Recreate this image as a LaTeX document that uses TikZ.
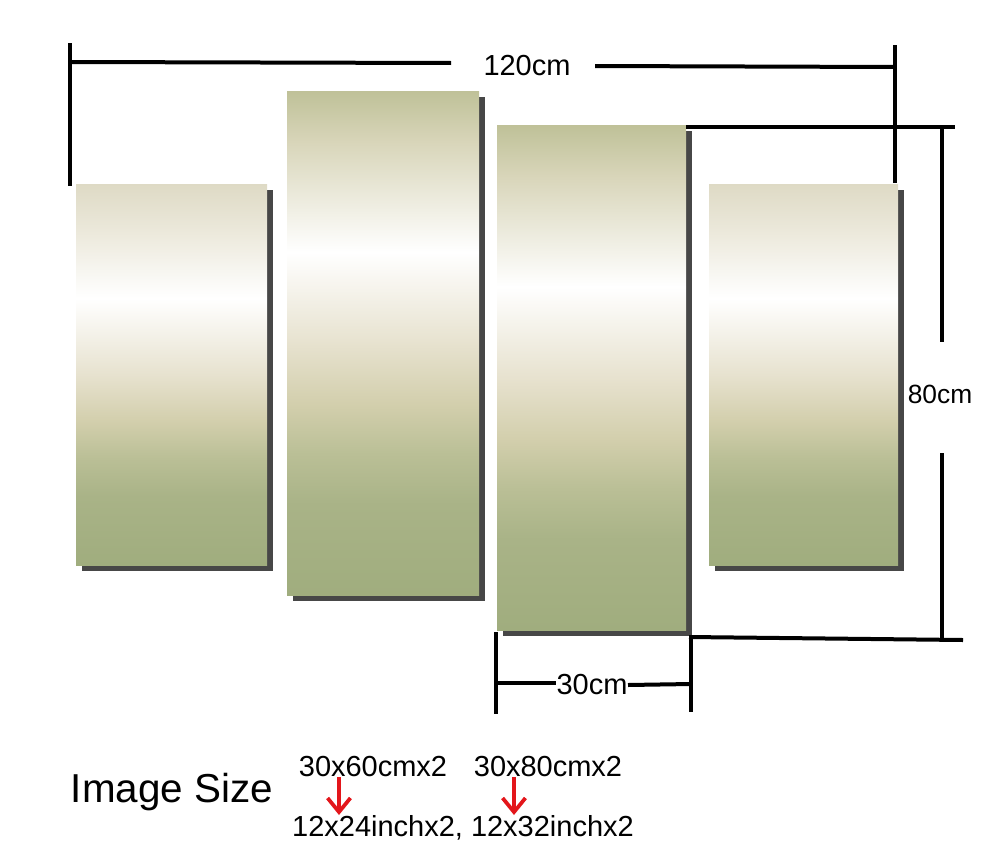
\documentclass[tikz,border=0pt]{standalone}
\usepackage{fontspec}
\setmainfont{Liberation Sans}
\usetikzlibrary{arrows.meta}

\definecolor{shadowgray}{HTML}{474747}
\definecolor{arrowred}{HTML}{E3161B}
\definecolor{greenbot}{HTML}{A0AD7E}
\definecolor{greenlow}{HTML}{A9B387}
\definecolor{greenmid}{HTML}{BABF96}
\definecolor{beigelow}{HTML}{D3CFAD}
\definecolor{beigemid}{HTML}{E7E2CF}
\definecolor{creamtop}{HTML}{D8D5B9}
\definecolor{greentop}{HTML}{BFC198}
\definecolor{paletop}{HTML}{DEDAC5}
\definecolor{palenext}{HTML}{EBE8DA}

% 25bp = bottom edge of the panel, 75bp = top edge
\pgfdeclareverticalshading{innerpanel}{100bp}{color(0bp)=(greenbot); color(25bp)=(greenbot);
  color(34bp)=(greenlow); color(39bp)=(greenmid); color(44bp)=(beigelow);
  color(50bp)=(beigemid); color(59bp)=(white); color(70bp)=(creamtop);
  color(75bp)=(greentop); color(100bp)=(greentop)}
\pgfdeclareverticalshading{outerpanel}{100bp}{color(0bp)=(greenbot); color(25bp)=(greenbot);
  color(34bp)=(greenlow); color(39bp)=(greenmid); color(44bp)=(beigelow);
  color(50bp)=(beigemid); color(60bp)=(white); color(69bp)=(palenext);
  color(75bp)=(paletop); color(100bp)=(paletop)}

\tikzset{
  dimline/.style={line width=0.08cm, black},
  sizearrow/.style={line width=0.075cm, arrowred, -{Straight Barb[length=8pt,width=13pt]}},
  dimlabel/.style={font=\fontsize{16.5}{18}\selectfont, inner sep=0pt, anchor=base},
  biglabel/.style={font=\fontsize{23}{26}\selectfont, inner sep=0pt, anchor=base},
  shadowbox/.style={fill=shadowgray}
}

\begin{document}
\begin{tikzpicture}[x=0.02cm, y=-0.02cm]
  \useasboundingbox (0,0) rectangle (1000,862);

  % panels
  \coordinate (p1nw) at (76,184);  \coordinate (p1se) at (267,565);
  \coordinate (p2nw) at (287,91);  \coordinate (p2se) at (479,595);
  \coordinate (p3nw) at (497,125); \coordinate (p3se) at (686,630);
  \coordinate (p4nw) at (709,184); \coordinate (p4se) at (898,565);

  \foreach \p in {p1,p2,p3,p4}
    \fill[shadowbox] ([shift={(6,6)}]\p nw) rectangle ([shift={(6,6)}]\p se);
  \shade[shading=outerpanel] (p1nw) rectangle (p1se);
  \shade[shading=innerpanel] (p2nw) rectangle (p2se);
  \shade[shading=innerpanel] (p3nw) rectangle (p3se);
  \shade[shading=outerpanel] (p4nw) rectangle (p4se);

  % total width
  \node[dimlabel] (w120) at (527,75) {120cm};
  \draw[dimline] (70,43) -- (70,186);
  \draw[dimline] (895,45) -- (895,183);
  \draw[dimline] (70,62) -- (451,63);
  \draw[dimline] (595,66) -- (895,67);

  % height
  \node[dimlabel, font=\fontsize{15}{17}\selectfont] (h80) at (940,403) {80cm};
  \draw[dimline] (686,127) -- (955,127);
  \draw[dimline] (689,637) -- (963,640);
  \draw[dimline] (942,127) -- (942,342);
  \draw[dimline] (942,453) -- (942,639);

  % panel width
  \node[dimlabel] (w30) at (592,694) {30cm};
  \draw[dimline] (496,632) -- (496,714);
  \draw[dimline] (691,637) -- (691,712);
  \draw[dimline] (496,683) -- (556,683);
  \draw[dimline] (628,685) -- (691,684);

  % sizes
  \node[biglabel] (imgsize) at (172,802) {Image Size};
  \node[dimlabel] (s60) at (373,776) {30x60cmx2};
  \node[dimlabel] (s80) at (548,776) {30x80cmx2};
  \node[dimlabel] (inch) at (463,836) {12x24inchx2, 12x32inchx2};
  \coordinate (a1top) at (339,777); \coordinate (a1tip) at (339,815);
  \coordinate (a2top) at (514,777); \coordinate (a2tip) at (514,815);
  \draw[sizearrow] (a1top) -- (a1tip);
  \draw[sizearrow] (a2top) -- (a2tip);
\end{tikzpicture}
\end{document}
